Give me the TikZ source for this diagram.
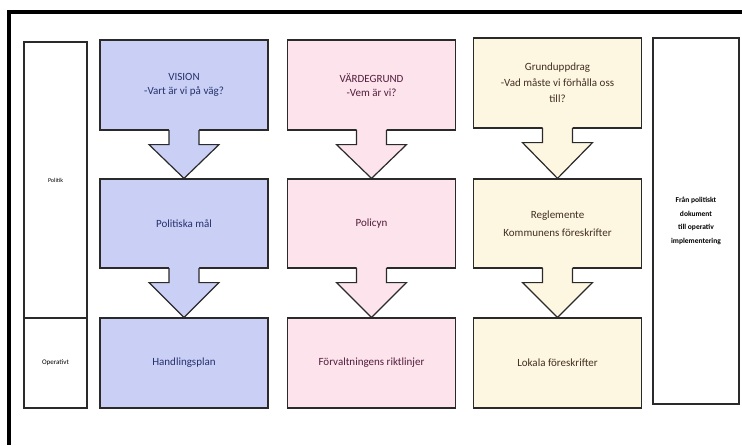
\documentclass[tikz,border=0pt]{standalone}
\usepackage{fontspec}
\setmainfont{Carlito}
\usetikzlibrary{calc}
\definecolor{bluefill}{HTML}{C9CFF5}
\definecolor{pinkfill}{HTML}{FCE3EC}
\definecolor{yellowfill}{HTML}{FDF6E0}
\definecolor{bluetext}{HTML}{26316A}
\definecolor{pinktext}{HTML}{521D3A}
\definecolor{yellowtext}{HTML}{422E22}
\definecolor{edge}{HTML}{2A2A2A}
\tikzset{
  box/.style={draw=edge, line width=1.2pt, minimum width=168pt, align=center, font=\fontsize{11}{13.5}\selectfont, inner sep=2pt},
  sidebox/.style={draw=edge, line width=1.2pt, align=center, inner sep=1pt},
  bcol/.style={box, fill=bluefill, text=bluetext},
  pcol/.style={box, fill=pinkfill, text=pinktext},
  ycol/.style={box, fill=yellowfill, text=yellowtext},
}
% block arrow from box #1 to box #2 with fill #3
\newcommand{\blockarrow}[3]{%
  \fill[#3] ($(#1.south)+(-15,-2.5)$) -- ($(#1.south)+(-15,14)$) -- ($(#1.south)+(-35,14)$)
     -- (#2.north) -- ($(#1.south)+(35,14)$) -- ($(#1.south)+(15,14)$) -- ($(#1.south)+(15,-2.5)$) -- cycle;
  \draw[draw=edge, line width=1.2pt, line join=miter] ($(#1.south)+(-15,-0.6)$) -- ($(#1.south)+(-15,14)$) -- ($(#1.south)+(-35,14)$)
     -- (#2.north) -- ($(#1.south)+(35,14)$) -- ($(#1.south)+(15,14)$) -- ($(#1.south)+(15,-0.6)$);
}
\begin{document}
\begin{tikzpicture}[x=1pt, y=-1pt]
\useasboundingbox (0,0) rectangle (742,445);
\fill[white] (0,0) rectangle (742,445);
% frame
\draw[line width=3.5pt, black] (742,12) -- (9,12) -- (9,445);
% left column
\node[sidebox, minimum width=63pt, minimum height=276pt, font=\fontsize{6}{7}\selectfont] (pol) at (55.5,180) {Politik};
\node[sidebox, minimum width=63pt, minimum height=90pt, font=\fontsize{7}{8}\selectfont] (op) at (55.5,363) {Operativt};
% right column
\node[sidebox, minimum width=86pt, minimum height=366pt, font=\bfseries\fontsize{7.5}{13.5}\selectfont] (impl) at (696,221) {Från politiskt\\dokument\\till operativ\\implementering};
% blue column
\node[bcol, minimum height=90pt] (b1) at (184,85) {VISION\\-Vart är vi på väg?};
\node[bcol, minimum height=89pt] (b2) at (184,223.5) {Politiska mål};
\node[bcol, minimum height=90pt] (b3) at (184,363) {Handlingsplan};
% pink column
\node[pcol, minimum height=90pt] (p1) at (371.5,85) {VÄRDEGRUND\\-Vem är vi?};
\node[pcol, minimum height=89pt] (p2) at (371.5,223.5) {Policyn};
\node[pcol, minimum height=90pt] (p3) at (371.5,363) {Förvaltningens riktlinjer};
% yellow column
\node[ycol, minimum height=90pt, font=\fontsize{11}{16}\selectfont] (y1) at (557.5,83) {Grunduppdrag\\-Vad måste vi förhålla oss\\till?};
\node[ycol, minimum height=89pt, font=\fontsize{11}{18}\selectfont] (y2) at (557.5,223.5) {Reglemente\\Kommunens föreskrifter};
\node[ycol, minimum height=90pt] (y3) at (557.5,363) {Lokala föreskrifter};
% arrows
\blockarrow{b1}{b2}{bluefill}
\blockarrow{b2}{b3}{bluefill}
\blockarrow{p1}{p2}{pinkfill}
\blockarrow{p2}{p3}{pinkfill}
\blockarrow{y1}{y2}{yellowfill}
\blockarrow{y2}{y3}{yellowfill}
\end{tikzpicture}
\end{document}
